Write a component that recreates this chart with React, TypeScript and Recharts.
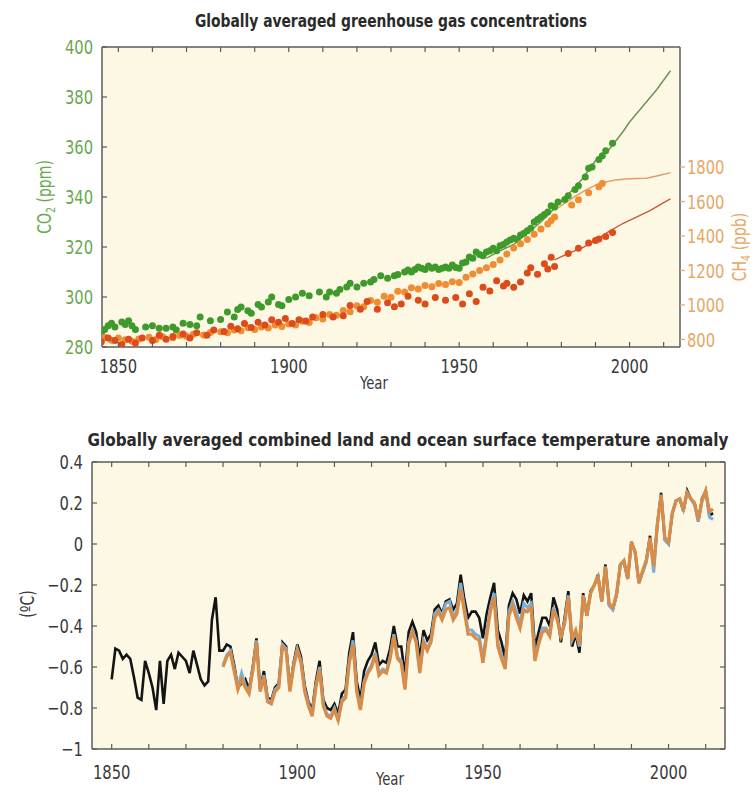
import React from "react";
import {
  ComposedChart,
  Scatter,
  Line,
  XAxis,
  YAxis,
  CartesianGrid,
  ReferenceLine,
} from "recharts";

// ---- greenhouse gases (ice core dots + atmospheric records) ----
const co2Dots: [number, number][] = [
  [1845, 285.5], [1846, 287], [1847, 288.5], [1848, 289.5], [1849, 288], [1851, 290], [1852, 289],
  [1853, 290.5], [1854, 288.5], [1855, 287], [1858, 288], [1860, 288.5], [1862, 287.5], [1864, 287.5],
  [1866, 288], [1867, 286.8], [1869, 289.5], [1871, 289], [1873, 288.5], [1874, 292], [1877, 290.5],
  [1880, 291], [1882, 294], [1884, 292], [1885, 295], [1886, 296], [1888, 294.5], [1889, 293.5],
  [1891, 297], [1892, 296], [1894, 298], [1895, 300], [1897, 297], [1898, 296.5], [1900, 299],
  [1902, 300], [1904, 301.5], [1906, 300.5], [1909, 302], [1911, 300], [1912, 302], [1914, 301.5],
  [1915, 303], [1917, 304], [1918, 305.5], [1920, 304], [1922, 305.5], [1924, 306], [1925, 307],
  [1927, 308.5], [1929, 307.5], [1931, 308.5], [1932, 309], [1934, 310], [1935, 310.8], [1936, 310],
  [1937, 311], [1938, 312], [1939, 311.5], [1940, 311], [1941, 312.4], [1942, 311.5], [1943, 312],
  [1944, 311], [1945, 311.5], [1946, 312], [1947, 311.5], [1948, 312.8], [1949, 311.8], [1950, 311.5],
  [1951, 313.6], [1952, 314], [1953, 316], [1954, 315.5], [1955, 318], [1956, 317], [1957, 316.5],
  [1958, 318], [1959, 318.5], [1960, 319.5], [1961, 318.5], [1962, 320.5], [1963, 321], [1964, 322],
  [1965, 322.8], [1966, 323.5], [1967, 323], [1968, 324.8], [1969, 325.5], [1970, 326.5], [1971, 327.5],
  [1972, 330], [1973, 331], [1974, 332], [1975, 333], [1976, 334], [1977, 336.5], [1978, 336],
  [1979, 338], [1981, 339], [1982, 340.5], [1984, 343], [1985, 344.5], [1987, 348], [1988, 351.5],
  [1989, 352], [1991, 355], [1992, 356.5], [1993, 358.5], [1995, 361.5],
];
const co2Record: [number, number][] = [
  [1958, 315.5], [1962, 318.5], [1966, 321], [1970, 325.5], [1974, 330], [1978, 335.5], [1982, 341],
  [1986, 347], [1990, 354.5], [1994, 359], [1998, 366], [2000, 370], [2004, 376.5], [2008, 383],
  [2012, 390.5],
];

const ch4Dots: [number, number][] = [
  [1845, 800], [1846, 812], [1848, 795], [1850, 808], [1852, 798], [1854, 790], [1856, 803],
  [1859, 812], [1861, 800], [1863, 815], [1866, 810], [1868, 822], [1870, 818], [1872, 830],
  [1875, 826], [1877, 840], [1880, 845], [1882, 838], [1884, 855], [1886, 850], [1888, 868],
  [1890, 858], [1892, 872], [1894, 866], [1896, 884], [1898, 875], [1900, 890], [1902, 884],
  [1904, 905], [1906, 898], [1908, 925], [1910, 918], [1912, 945], [1914, 940], [1916, 968],
  [1918, 960], [1920, 995], [1922, 990], [1924, 1025], [1926, 1015], [1928, 1050], [1930, 1045],
  [1932, 1080], [1934, 1075], [1936, 1100], [1938, 1092], [1940, 1112], [1942, 1105], [1944, 1125],
  [1946, 1118], [1948, 1135], [1950, 1130], [1952, 1160], [1954, 1180], [1956, 1200], [1958, 1215],
  [1960, 1235], [1962, 1260], [1964, 1295], [1966, 1330], [1968, 1355], [1970, 1380], [1972, 1410],
  [1974, 1440], [1976, 1470], [1977, 1490], [1978, 1510], [1983, 1580], [1985, 1610], [1988, 1650],
  [1991, 1685], [1992, 1705],
];
const ch4Record: [number, number][] = [
  [1978, 1550], [1981, 1590], [1984, 1630], [1987, 1665], [1990, 1695], [1993, 1713], [1996, 1725],
  [1999, 1730], [2002, 1733], [2005, 1735], [2008, 1748], [2012, 1767],
];

const n2oDots: [number, number][] = [
  [1845, 269.5], [1847, 271], [1849, 270], [1851, 268.5], [1853, 270.5], [1855, 269], [1857, 271],
  [1860, 270], [1862, 272], [1864, 270.5], [1866, 271.5], [1869, 272.5], [1871, 271], [1873, 273],
  [1876, 272], [1878, 274], [1881, 273.5], [1883, 275.5], [1885, 274.5], [1887, 276.5], [1889, 275],
  [1891, 277], [1893, 276], [1895, 278], [1897, 277], [1899, 278.5], [1901, 276.5], [1903, 278],
  [1905, 277.5], [1907, 279], [1910, 280], [1913, 279], [1916, 279.5], [1918, 283.5], [1921, 282],
  [1923, 285], [1926, 282], [1929, 284.5], [1931, 283], [1933, 284], [1935, 287], [1938, 285.5],
  [1940, 284], [1943, 286.5], [1946, 285.5], [1949, 286.5], [1951, 284], [1953, 288], [1955, 285],
  [1957, 290.5], [1959, 289], [1961, 293], [1963, 291], [1964, 292], [1966, 290.5], [1968, 292.5],
  [1970, 296], [1971, 298], [1973, 295.5], [1975, 299.5], [1976, 297.5], [1977, 302], [1978, 298.5],
  [1982, 303.5], [1985, 305.5], [1988, 307.5], [1990, 308.5], [1991, 309], [1993, 310], [1995, 311.5],
];
const n2oRecord: [number, number][] = [
  [1978, 301], [1982, 303.5], [1986, 305.5], [1990, 308.5], [1994, 312], [1998, 315], [2002, 317.5],
  [2006, 320], [2010, 323], [2012, 324.5],
];

// ---- temperature anomaly (°C), one value per year ----
const hadcrutStart = 1850;
const hadcrut = [
  -0.66, -0.51, -0.52, -0.56, -0.54, -0.56, -0.65, -0.75, -0.76, -0.57,
  -0.63, -0.70, -0.81, -0.57, -0.78, -0.57, -0.54, -0.61, -0.53, -0.55,
  -0.57, -0.63, -0.52, -0.59, -0.66, -0.69, -0.67, -0.37, -0.26, -0.52,
  -0.52, -0.49, -0.50, -0.59, -0.70, -0.68, -0.66, -0.71, -0.60, -0.46,
  -0.71, -0.62, -0.75, -0.76, -0.70, -0.68, -0.48, -0.50, -0.70, -0.58,
  -0.49, -0.55, -0.69, -0.77, -0.81, -0.67, -0.57, -0.76, -0.80, -0.81,
  -0.78, -0.83, -0.73, -0.71, -0.53, -0.43, -0.67, -0.76, -0.62, -0.57,
  -0.54, -0.48, -0.59, -0.57, -0.58, -0.51, -0.40, -0.50, -0.50, -0.64,
  -0.43, -0.38, -0.43, -0.56, -0.42, -0.47, -0.44, -0.32, -0.30, -0.34,
  -0.28, -0.27, -0.32, -0.29, -0.15, -0.27, -0.36, -0.33, -0.33, -0.36,
  -0.46, -0.34, -0.26, -0.19, -0.42, -0.48, -0.56, -0.30, -0.24, -0.27,
  -0.34, -0.25, -0.28, -0.24, -0.51, -0.43, -0.36, -0.36, -0.40, -0.26,
  -0.32, -0.48, -0.36, -0.23, -0.50, -0.44, -0.53, -0.24, -0.35, -0.23,
  -0.20, -0.15, -0.28, -0.10, -0.30, -0.32, -0.25, -0.10, -0.09, -0.17,
  0.01, -0.04, -0.19, -0.14, -0.08, 0.04, -0.11, 0.10, 0.25, 0.02,
  0.00, 0.15, 0.21, 0.22, 0.16, 0.26, 0.22, 0.20, 0.11, 0.22,
  0.26, 0.14, 0.15,
];
const otherStart = 1880;
const noaa = [
  -0.60, -0.55, -0.53, -0.62, -0.71, -0.66, -0.70, -0.73, -0.62, -0.48,
  -0.72, -0.65, -0.77, -0.78, -0.72, -0.70, -0.50, -0.52, -0.72, -0.60,
  -0.52, -0.58, -0.72, -0.79, -0.84, -0.70, -0.61, -0.79, -0.84, -0.85,
  -0.81, -0.86, -0.77, -0.75, -0.58, -0.49, -0.72, -0.81, -0.68, -0.63,
  -0.60, -0.54, -0.64, -0.62, -0.63, -0.56, -0.45, -0.56, -0.58, -0.71,
  -0.49, -0.43, -0.48, -0.63, -0.48, -0.52, -0.48, -0.36, -0.33, -0.37,
  -0.32, -0.31, -0.37, -0.34, -0.22, -0.33, -0.44, -0.44, -0.46, -0.47,
  -0.58, -0.45, -0.33, -0.26, -0.50, -0.56, -0.61, -0.35, -0.30, -0.36,
  -0.41, -0.32, -0.33, -0.31, -0.57, -0.49, -0.43, -0.42, -0.45, -0.32,
  -0.37, -0.45, -0.39, -0.26, -0.46, -0.42, -0.49, -0.25, -0.35, -0.24,
  -0.20, -0.16, -0.28, -0.11, -0.29, -0.31, -0.24, -0.10, -0.08, -0.17,
  0.01, -0.04, -0.19, -0.13, -0.08, 0.03, -0.11, 0.10, 0.24, 0.03,
  0.01, 0.15, 0.21, 0.22, 0.17, 0.25, 0.22, 0.20, 0.12, 0.21,
  0.26, 0.16, 0.17,
];
const giss = [
  -0.59, -0.54, -0.52, -0.61, -0.70, -0.63, -0.69, -0.72, -0.61, -0.47,
  -0.71, -0.64, -0.76, -0.77, -0.71, -0.69, -0.49, -0.51, -0.71, -0.59,
  -0.51, -0.57, -0.71, -0.78, -0.83, -0.69, -0.60, -0.78, -0.83, -0.84,
  -0.80, -0.86, -0.76, -0.74, -0.57, -0.47, -0.71, -0.80, -0.67, -0.62,
  -0.59, -0.53, -0.63, -0.61, -0.62, -0.55, -0.44, -0.55, -0.57, -0.70,
  -0.48, -0.42, -0.47, -0.62, -0.47, -0.51, -0.47, -0.34, -0.32, -0.35,
  -0.29, -0.28, -0.36, -0.32, -0.19, -0.31, -0.42, -0.42, -0.44, -0.45,
  -0.56, -0.43, -0.31, -0.24, -0.48, -0.54, -0.60, -0.33, -0.28, -0.33,
  -0.39, -0.29, -0.31, -0.29, -0.56, -0.48, -0.41, -0.41, -0.44, -0.31,
  -0.36, -0.46, -0.38, -0.25, -0.47, -0.43, -0.50, -0.25, -0.35, -0.24,
  -0.20, -0.16, -0.28, -0.11, -0.30, -0.32, -0.25, -0.10, -0.09, -0.17,
  0.01, -0.04, -0.19, -0.14, -0.09, 0.03, -0.14, 0.10, 0.24, 0.02,
  0.00, 0.15, 0.21, 0.22, 0.16, 0.25, 0.22, 0.19, 0.11, 0.21,
  0.26, 0.13, 0.12,
];

// ---- ticks ----
const yearTicks = [1850, 1860, 1870, 1880, 1890, 1900, 1910, 1920, 1930, 1940, 1950, 1960, 1970, 1980, 1990, 2000, 2010];
const yearLabels = [1850, 1900, 1950, 2000];
const co2Ticks = [280, 300, 320, 340, 360, 380, 400];
const ch4Ticks = [800, 1000, 1200, 1400, 1600, 1800];
const tempTicks = [-1, -0.8, -0.6, -0.4, -0.2, 0, 0.2, 0.4];

const FONT = "'Liberation Sans Narrow', 'DejaVu Sans Condensed', 'Arial Narrow', sans-serif";
const CREAM = "#fdf8e4";
const FRAME = "#5b5b5b";
const INK = "#3a3a3a";
const GREEN_TXT = "#6aa84f";
const TAN_TXT = "#e6a862";
const NARROW = "scale(0.82 1)";

const pairs = (list: [number, number][]) => list.map(([year, v]) => ({ year, v }));
const series = (start: number, vals: number[]) => vals.map((v, i) => ({ year: start + i, v }));

const co2DotRows = pairs(co2Dots);
const co2LineRows = pairs(co2Record);
const ch4DotRows = pairs(ch4Dots);
const ch4LineRows = pairs(ch4Record);
const n2oDotRows = pairs(n2oDots);
const n2oLineRows = pairs(n2oRecord);
const hadRows = series(hadcrutStart, hadcrut);
const noaaRows = series(otherStart, noaa);
const gissRows = series(otherStart, giss);

const dot = (fill: string) => (p: any) => <circle cx={p.cx} cy={p.cy} r={3.5} fill={fill} />;

// narrow text drawn at (x, y)
const label = (x: number, y: number, txt: string, anchor: string, fill: string, size = 20) => (
  <text
    transform={`translate(${x} ${y}) ${NARROW}`}
    dy="0.36em"
    textAnchor={anchor}
    fill={fill}
    fontSize={size}
    fontFamily={FONT}
  >
    {txt}
  </text>
);

const yearTick = (plotH: number, labelDy: number) => (p: any) => {
  const { x, y, payload } = p;
  return (
    <g>
      <line x1={x} x2={x} y1={y} y2={y - 5} stroke={FRAME} strokeWidth={1.2} />
      <line x1={x} x2={x} y1={y - plotH} y2={y - plotH + 5} stroke={FRAME} strokeWidth={1.2} />
      {yearLabels.includes(payload.value) && label(x, y + labelDy, String(payload.value), "middle", INK)}
    </g>
  );
};

const co2Tick = (p: any) => (
  <g>
    <line x1={p.x} x2={p.x + 5} y1={p.y} y2={p.y} stroke={FRAME} strokeWidth={1.2} />
    {label(p.x - 9, p.y, String(p.payload.value), "end", GREEN_TXT)}
  </g>
);

const ch4Tick = (p: any) => (
  <g>
    <line x1={p.x} x2={p.x + 5} y1={p.y} y2={p.y} stroke={TAN_TXT} strokeWidth={1.2} />
    {label(p.x + 7, p.y, String(p.payload.value), "start", TAN_TXT)}
  </g>
);

const fmtTemp = (v: number) => (v < 0 ? "\u2212" + Math.abs(v) : String(v));

const tempTick = (p: any) => (
  <g>
    <line x1={p.x} x2={p.x + 5} y1={p.y} y2={p.y} stroke={FRAME} strokeWidth={1.2} />
    {label(p.x - 9, p.y, fmtTemp(p.payload.value), "end", INK)}
  </g>
);

const rightInsideTick = (p: any) => (
  <line x1={p.x} x2={p.x - 5} y1={p.y} y2={p.y} stroke={FRAME} strokeWidth={1.2} />
);

function GasChart() {
  return (
    <ComposedChart width={754} height={400} margin={{ top: 47, right: 14, bottom: 23, left: 42 }}>
      <CartesianGrid yAxisId="co2" fill={CREAM} horizontal={false} vertical={false} />
      <XAxis
        type="number"
        dataKey="year"
        domain={[1845.2, 2014.8]}
        allowDataOverflow
        ticks={yearTicks}
        interval={0}
        height={30}
        axisLine={{ stroke: FRAME, strokeWidth: 1.5 }}
        tickLine={false}
        tickSize={0}
        tickMargin={0}
        tick={yearTick(300, 19)}
      />
      <YAxis
        yAxisId="co2"
        type="number"
        dataKey="v"
        domain={[280, 400]}
        allowDataOverflow
        ticks={co2Ticks}
        interval={0}
        width={60}
        axisLine={{ stroke: FRAME, strokeWidth: 1.5 }}
        tickLine={false}
        tickSize={0}
        tickMargin={0}
        tick={co2Tick}
      />
      <YAxis
        yAxisId="ch4"
        orientation="right"
        type="number"
        dataKey="v"
        domain={[756, 2496]}
        allowDataOverflow
        ticks={ch4Ticks}
        interval={0}
        width={60}
        axisLine={{ stroke: FRAME, strokeWidth: 1.5 }}
        tickLine={false}
        tickSize={0}
        tickMargin={0}
        tick={ch4Tick}
      />
      <YAxis yAxisId="n2o" hide type="number" dataKey="v" domain={[267.5, 382.9]} allowDataOverflow />
      <ReferenceLine yAxisId="co2" y={400} stroke={FRAME} strokeWidth={1.5} />

      <Scatter yAxisId="co2" data={co2DotRows} shape={dot("#3f9a2c")} isAnimationActive={false} />
      <Scatter yAxisId="ch4" data={ch4DotRows} shape={dot("#f08c32")} isAnimationActive={false} />
      <Scatter yAxisId="n2o" data={n2oDotRows} shape={dot("#dc4b1c")} isAnimationActive={false} />
      <Line yAxisId="co2" data={co2LineRows} dataKey="v" stroke="#6b8f52" strokeWidth={1.4} dot={false} isAnimationActive={false} />
      <Line yAxisId="ch4" data={ch4LineRows} dataKey="v" stroke="#e59a62" strokeWidth={1.4} dot={false} isAnimationActive={false} />
      <Line yAxisId="n2o" data={n2oLineRows} dataKey="v" stroke="#c9593a" strokeWidth={1.4} dot={false} isAnimationActive={false} />
    </ComposedChart>
  );
}

function TempChart() {
  return (
    <ComposedChart width={754} height={392} margin={{ top: 62, right: 28, bottom: 13, left: 32 }}>
      <CartesianGrid yAxisId="t" fill={CREAM} horizontal={false} vertical={false} />
      <XAxis
        type="number"
        dataKey="year"
        domain={[1844.7, 2015.2]}
        allowDataOverflow
        ticks={yearTicks}
        interval={0}
        height={30}
        axisLine={{ stroke: FRAME, strokeWidth: 1.5 }}
        tickLine={false}
        tickSize={0}
        tickMargin={0}
        tick={yearTick(287, 23)}
      />
      <YAxis
        yAxisId="t"
        type="number"
        dataKey="v"
        domain={[-1, 0.4]}
        allowDataOverflow
        ticks={tempTicks}
        interval={0}
        width={60}
        axisLine={{ stroke: FRAME, strokeWidth: 1.5 }}
        tickLine={false}
        tickSize={0}
        tickMargin={0}
        tick={tempTick}
      />
      <YAxis
        yAxisId="r"
        orientation="right"
        type="number"
        dataKey="v"
        domain={[-1, 0.4]}
        allowDataOverflow
        ticks={tempTicks}
        interval={0}
        width={1}
        axisLine={{ stroke: FRAME, strokeWidth: 1.5 }}
        tickLine={false}
        tickSize={0}
        tickMargin={0}
        tick={rightInsideTick}
      />
      <ReferenceLine yAxisId="t" y={0.4} stroke={FRAME} strokeWidth={1.5} />

      <Line yAxisId="t" data={hadRows} dataKey="v" stroke="#141414" strokeWidth={2.6} dot={false} isAnimationActive={false} />
      <Line yAxisId="t" data={gissRows} dataKey="v" stroke="#78b0da" strokeWidth={3} dot={false} isAnimationActive={false} />
      <Line yAxisId="t" data={noaaRows} dataKey="v" stroke="#d98b48" strokeWidth={3.2} dot={false} isAnimationActive={false} />
    </ComposedChart>
  );
}

export default function App() {
  return (
    <div style={{ position: "absolute", left: 0, top: 0, width: 754, height: 792, background: "#fff" }}>
      <div style={{ position: "absolute", left: 0, top: 0 }}>
        <GasChart />
      </div>
      <div style={{ position: "absolute", left: 0, top: 400 }}>
        <TempChart />
      </div>
      <svg width={754} height={792} style={{ position: "absolute", left: 0, top: 0, pointerEvents: "none" }} fontFamily={FONT}>
        <text x={391} y={27} textAnchor="middle" fontWeight="bold" fontSize={17} fill="#2a2a2a" textLength={392} lengthAdjust="spacingAndGlyphs">
          Globally averaged greenhouse gas concentrations
        </text>
        <text x={408} y={446} textAnchor="middle" fontWeight="bold" fontSize={17} fill="#2a2a2a" textLength={641} lengthAdjust="spacingAndGlyphs">
          Globally averaged combined land and ocean surface temperature anomaly
        </text>
        <text transform={`translate(51,197) rotate(-90) ${NARROW}`} textAnchor="middle" fontSize={19} fill={GREEN_TXT}>
          CO<tspan dy={4} fontSize={13}>2</tspan>
          <tspan dy={-4}> (ppm)</tspan>
        </text>
        <text transform={`translate(746,247) rotate(-90) ${NARROW}`} textAnchor="middle" fontSize={19} fill={TAN_TXT}>
          CH<tspan dy={4} fontSize={13}>4</tspan>
          <tspan dy={-4}> (ppb)</tspan>
        </text>
        <text transform={`translate(34,604) rotate(-90) ${NARROW}`} textAnchor="middle" fontSize={19} fill={INK}>
          (ºC)
        </text>
        {label(374, 383, "Year", "middle", INK, 18)}
        {label(390, 779, "Year", "middle", INK, 18)}
      </svg>
    </div>
  );
}
